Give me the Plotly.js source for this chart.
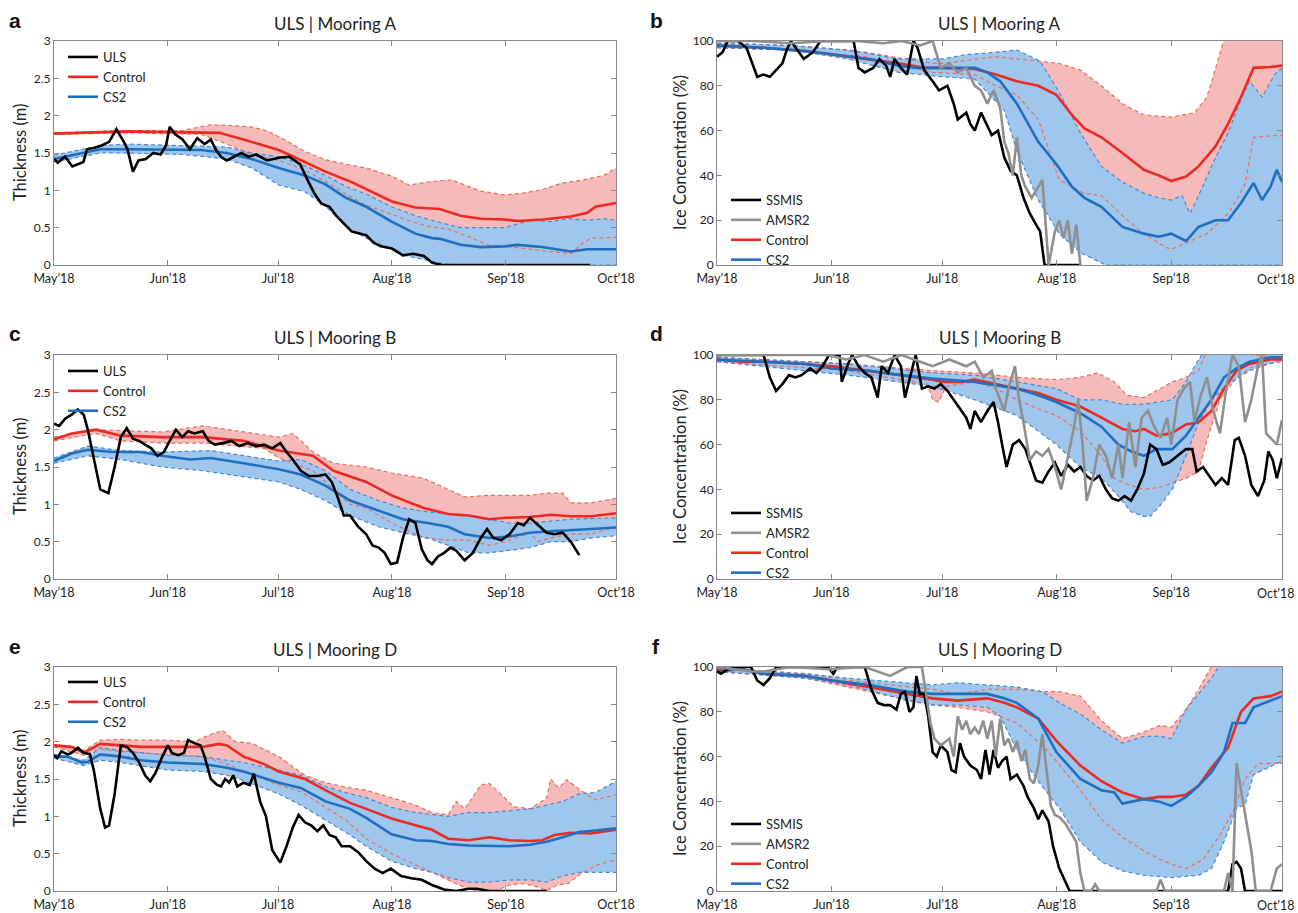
<!DOCTYPE html>
<html>
<head>
<meta charset="utf-8">
<script src="https://cdn.plot.ly/plotly-3.0.1.min.js"></script>
<style>html,body{margin:0;padding:0;background:#fff;}#chart{width:1298px;height:913px;}</style>
</head>
<body>
<div id="chart"></div>
<script>
// ---------- tick labels ----------
const monthTicks = ['2018-05-01','2018-06-01','2018-07-01','2018-08-01','2018-09-01','2018-10-01'];
const monthLabels = ['May’18','Jun’18','Jul’18','Aug’18','Sep’18','Oct’18'];
const panelTitles = ['ULS | Mooring A','ULS | Mooring A','ULS | Mooring B','ULS | Mooring B','ULS | Mooring D','ULS | Mooring D'];
const panelLetters = ['a','b','c','d','e','f'];

// ---------- data (days since 1 May 2018, values) ----------
// Panel a : thickness, mooring A
const aUlsDay = [0,1,3,5,8,9,11,13,15,17,19,20,21.5,23,25,27,29,30.5,31.5,33,35,37,39,41,42.7,44,45.5,47,49,51,53,55,58,61.6,64,67,69.4,71,72.8,75,77,79,81,83.4,85,87,89,92,93.5,95,97.8,100.7,103,105.7,146];
const aUlsVal = [1.42,1.37,1.45,1.32,1.38,1.55,1.57,1.6,1.65,1.82,1.65,1.55,1.25,1.4,1.42,1.5,1.48,1.6,1.85,1.75,1.68,1.55,1.7,1.62,1.68,1.55,1.45,1.4,1.45,1.5,1.45,1.48,1.4,1.44,1.45,1.35,1.1,0.95,0.82,0.78,0.65,0.55,0.45,0.42,0.4,0.3,0.25,0.22,0.18,0.13,0.15,0.12,0.03,0,0];
const aCtlDay = [0,10,20,31,45,51.6,61.2,68.3,73.9,80.6,85,92,98.4,105,110.7,116.2,122.6,126.3,133,140.7,145.2,147.4,153];
const aCtlVal = [1.76,1.77,1.79,1.78,1.77,1.68,1.54,1.38,1.25,1.12,1.02,0.85,0.77,0.75,0.66,0.62,0.61,0.59,0.61,0.65,0.7,0.78,0.83];
const aCtlHiDay = [0,20,35,42.7,47,53.8,58.3,62.7,68.3,73.9,79.5,85,91.9,96.7,102.9,108.4,112.9,116.2,122.6,127.4,132.9,138.5,144.1,149.7,153];
const aCtlHiVal = [1.77,1.8,1.8,1.88,1.87,1.85,1.79,1.68,1.52,1.41,1.35,1.3,1.19,1.07,1.12,1.14,1.05,0.99,0.94,0.96,1.01,1.1,1.14,1.2,1.3];
const aCtlLoDay = [0,20,40,47,53.8,61.2,67.2,73.9,79.5,85,91.9,96.2,101.7,107.3,112.9,118.5,122.6,129.6,135.2,140.7,144.1,146.3,153];
const aCtlLoVal = [1.75,1.77,1.75,1.62,1.48,1.4,1.3,1.12,0.95,0.8,0.68,0.6,0.52,0.48,0.38,0.26,0.25,0.21,0.18,0.15,0.3,0.36,0.37];
const aCs2Day = [0,5,12.6,20,30,40,47,53.8,61.2,68.3,73.9,79.5,85,91.9,98.4,102.9,105.1,110.7,116.2,122.6,126.3,132.9,140.7,145.2,153];
const aCs2Val = [1.42,1.47,1.55,1.55,1.55,1.54,1.5,1.42,1.3,1.2,1.08,0.9,0.78,0.58,0.42,0.36,0.35,0.27,0.24,0.25,0.27,0.24,0.18,0.21,0.21];
const aCs2HiDay = [0,12.6,20,35,47,53.8,61.2,68.3,73.9,79.5,85,91.9,98.4,105,110.7,116.2,122.6,126.3,130,135,140,145,150,153];
const aCs2HiVal = [1.47,1.6,1.62,1.6,1.58,1.5,1.45,1.33,1.2,1.05,0.95,0.78,0.66,0.57,0.5,0.5,0.5,0.55,0.6,0.58,0.62,0.6,0.62,0.6];
const aCs2LoDay = [0,12.6,20,35,47,53.8,61.2,68.3,73.9,79.5,85,91.9,96.2,102.9,108,153];
const aCs2LoVal = [1.38,1.5,1.5,1.48,1.42,1.3,1.07,0.98,0.79,0.52,0.36,0.21,0.12,0.05,0,0];

// Panel b : ice concentration, mooring A
const bSsmDay = [0,1.5,2.9,5.7,8,10.9,12.6,14.3,16,17.7,18.9,20,23.5,26,28,37,38.3,40,42.3,44,45.8,46.9,48.1,49.8,51.5,53.2,54.3,56.1,58.4,60.1,62.4,64.1,65.2,67.5,68.6,69.8,71.5,73.2,74.4,76.1,77.8,79.5,81.2,83,84.7,86.4,87.5,88.7,98.4];
const bSsmVal = [93,95,100,100,97,84,85,84,87,90,96,100,92,95,100,100,88,86,88,92,89,84,92,88,85,100,97,87,82,78,80,72,65,68,63,60,68,62,58,60,48,42,40,30,23,18,15,0,0];
const bAmsDay = [0,10,20,30,37.8,45,50,55,58.4,60.6,62.9,65.2,67.5,69.8,71.5,73.2,74.9,76.7,77.8,78.9,80.1,81.2,82.4,83.5,85.2,87,88.1,88.7,89.8,91.5,92.7,93.8,95,96.1,97.3,98.4];
const bAmsVal = [100,100,99,100,100,99,100,98,100,88,90,86,88,80,78,72,78,70,55,50,40,57,40,35,30,35,38,25,0,15,20,12,20,5,18,0];
const bCtlDay = [0,12.6,24,31.1,41.2,49.2,56.1,61.2,69.8,75.5,81.2,87,91.9,96.1,99.5,104.1,109.8,115.6,119.6,123,127,130.4,135,138.4,141.9,145.3,149.9,153];
const bCtlVal = [98,97,95.5,94,92,90,88,88,87.5,85,82,80,76,67,61,57,50,42.5,40,37.5,39.5,44,53,63,75,88,88.4,89];
const bCtlHiDay = [0,20,40,58.4,61.2,69.8,75.5,81.2,88.1,92.7,98.4,104.1,109.8,115.6,123,129.3,132.7,136.2,139,153];
const bCtlHiVal = [99,98,95,90,90,92,93,92,91,90,87,80,72,67,66,68,75,95,110,110];
const bCtlLoDay = [0,20,40,58.4,69.8,75.5,81.2,87,92.7,99.5,104.1,109.8,115.6,121.3,123,127,132.7,138.4,140.7,143,145.3,153];
const bCtlLoVal = [97,96,93,86,85,80,76,65,38,32,31,22,14,8,7,10,14,23,29,36,57,58];
const bCs2Day = [0,12.6,24,31.1,41.2,49.2,53.8,58.4,64,69.8,73.2,76.7,81.2,87,91.9,96.1,99.5,104.1,109.8,115.6,119.6,123,127,130.4,135,138.4,141.9,145.3,147.6,149.9,151.6,153];
const bCs2Val = [98,97,95.5,94,92,89,88,88,88,88,86,82,72,55,45,35,30,26,17,14,12.6,14,10.7,17,20,20,27.7,36.6,29,35,42.5,37];
const bCs2HiDay = [0,20,35.5,49.2,61.2,67.5,75.5,81.2,87.5,92.7,98.4,104.1,109.8,115.6,119.6,123,125.9,128.1,130.4,135,138.4,141.9,144.2,147.6,151,153];
const bCs2HiVal = [99,98,96,92,92,94,95,96,91,77,59,44,37,32,30,29,31,23,31,48,59,74,82,75,85,88];
const bCs2LoDay = [0,20,35.5,49.2,61.2,69.8,77.8,81.2,87,92.7,98.4,105.3,153];
const bCs2LoVal = [97,96,92,86,84,83,69,51,29,14,5.5,0,0];

// Panel c : thickness, mooring B
const cUlsDay = [0,1.4,3.1,4.8,6.5,8.1,9.2,10.9,12.6,14.8,16.5,18.2,19.8,21.5,23.2,24.8,26.5,28.2,29.9,31.5,33.2,34.9,36.5,38.2,40.5,42.1,43.8,46,48.3,50.5,52.7,54.9,57.2,59.4,61.6,63.3,65,67.2,69.4,71.7,73.9,75.6,77.2,78.9,80.6,82.8,85,86.7,88.4,90,91.7,93.4,95,96.7,98.4,100.1,101.7,102.9,104.5,106.2,107.9,109.5,111.8,114,116.2,117.9,119.6,121.8,124,126.3,127.9,129.6,131.8,134.1,136.3,138.5,140.7,143];
const cUlsVal = [2.08,2.05,2.15,2.2,2.27,2.2,2.0,1.6,1.2,1.15,1.5,1.9,2.02,1.88,1.85,1.8,1.75,1.65,1.7,1.85,2.0,1.9,1.98,1.95,1.98,1.85,1.8,1.82,1.85,1.78,1.82,1.78,1.8,1.75,1.82,1.7,1.6,1.45,1.38,1.38,1.4,1.3,1.1,0.85,0.85,0.7,0.6,0.45,0.42,0.35,0.2,0.22,0.55,0.8,0.75,0.4,0.25,0.2,0.3,0.35,0.42,0.38,0.25,0.35,0.55,0.67,0.55,0.52,0.6,0.75,0.72,0.82,0.72,0.62,0.6,0.62,0.5,0.32];
const cCtlDay = [0,4.8,11.5,18.2,29.3,40.5,51.6,61.2,70.5,76.1,85,91.9,100.6,107.3,112.9,118.5,122.9,129.6,135.2,140.7,146.3,153];
const cCtlVal = [1.87,1.95,2.0,1.92,1.9,1.9,1.85,1.72,1.65,1.45,1.3,1.12,0.95,0.87,0.85,0.8,0.82,0.83,0.86,0.84,0.84,0.88];
const cCtlHiDay = [0,11.5,29.3,40.5,51.6,61.2,65,70.5,76.1,85,91.9,100.6,107.3,111.8,118.5,129.6,134.1,138.5,140.7,146.3,153];
const cCtlHiVal = [1.9,2.0,1.97,2.05,1.97,1.9,1.95,1.7,1.55,1.5,1.42,1.35,1.2,1.1,1.12,1.12,1.15,1.15,1.02,1.02,1.08];
const cCtlLoDay = [0,11.5,18.2,29.3,40.5,51.6,57.2,61.2,65,70.5,76.1,80.6,85,91.9,96.2,100.6,107.3,112.9,118.5,122.9,129.6,131.8,135.2,140.7,146.3,153];
const cCtlLoVal = [1.85,1.95,1.85,1.82,1.82,1.77,1.75,1.62,1.55,1.45,1.2,1.0,0.95,0.75,0.65,0.55,0.52,0.52,0.45,0.5,0.62,0.5,0.55,0.6,0.6,0.7];
const cCs2Day = [0,4.8,9.2,15.9,23.7,29.3,37.1,42.7,51.6,61.2,67.2,73.9,80.6,88.4,95,101.7,107.3,111.8,118.5,124,129.6,135.2,140.7,146.3,153];
const cCs2Val = [1.58,1.68,1.73,1.7,1.7,1.65,1.6,1.62,1.55,1.47,1.4,1.25,1.05,0.92,0.8,0.75,0.7,0.6,0.55,0.57,0.62,0.64,0.65,0.67,0.69];
const cCs2HiDay = [0,9.2,18.2,29.3,42.7,51.6,61.2,67.2,73.9,80.6,88.4,95,101.7,107.3,112.9,118.5,124,129.6,140.7,153];
const cCs2HiVal = [1.62,1.78,1.72,1.7,1.72,1.65,1.58,1.6,1.45,1.2,1.05,0.95,0.9,0.87,0.85,0.8,0.75,0.75,0.8,0.82];
const cCs2LoDay = [0,9.2,18.2,29.3,40.5,51.6,61.2,67.2,73.9,80.6,88.4,95,101.7,107.3,112.9,118.5,124,129.6,135.2,140.7,146.3,153];
const cCs2LoVal = [1.55,1.65,1.6,1.5,1.45,1.37,1.3,1.2,1.05,0.85,0.7,0.62,0.55,0.45,0.35,0.35,0.38,0.42,0.5,0.5,0.55,0.58];

// Panel d : ice concentration, mooring B
const dSsmDay = [0,12.6,14.3,16,17.7,19.5,21.2,22.9,25.2,26.9,28.6,30.3,33.2,33.8,35.5,36.6,38.3,40,41.8,43.5,44.6,46.3,48.1,49.8,50.9,52.6,53.8,55.5,57.2,58.9,60.6,62.4,64.1,65.8,67.5,68.6,69.8,71.5,73.2,74.9,76.1,77.2,78.4,80.1,81.8,83.5,85.2,86.4,88.1,89.8,91.5,93.2,95,96.7,98.4,100.1,101.8,103.5,105.3,107,108.7,110.4,112.1,113.8,115.6,117.3,119,120.7,122.4,124.7,127,128.7,129.9,131.6,133.3,135,136.7,138.4,140.2,141.3,143,144.7,146.5,148.2,149.3,150.5,151.6,153];
const dSsmVal = [100,100,90,84,87,91,90,91,94,92,95,100,100,88,96,100,95,92,90,81,95,92,100,95,81,92,100,85,86,85,87,84,80,76,72,67,75,70,75,79,70,60,50,60,62,58,50,44,43,48,52,46,51,48,50,46,44,46,40,36,35,37,35,40,47,60,58,51,52,55,58,58,48,50,46,42,45,42,62,63,55,42,37,44,57,53,45,54];
const dAmsDay = [0,30,35,40,45,50,55,58.4,62.9,67.5,69.8,72.1,74.4,75.5,77.8,78.9,80.7,81.8,83,84.7,86.4,88.1,89.8,91.5,93.2,95,96.7,97.8,99,100.1,101.8,103.5,105.3,107,108.7,109.8,111.6,113.3,115,116.7,118.4,120.1,121.9,123,124.7,126.4,128.1,129.3,131,132.7,134.4,136.2,137.9,139.6,141.3,143,144.7,146.5,147.6,148.7,150.5,151.6,153];
const dAmsVal = [100,100,98,100,97,100,97,95,98,95,97,90,93,85,75,85,95,80,70,53,57,55,58,50,40,55,68,80,60,35,45,60,55,45,60,45,70,50,72,75,68,63,72,60,80,85,88,70,82,90,75,65,85,100,95,70,80,95,100,65,62,60,71];
const dCtlDay = [0,6.9,12.6,24,31.1,41.2,49.8,58.4,61.2,66.4,69.8,75.5,81.2,87,91.9,98.4,104.1,109.8,113.3,115.6,119,123,127,130.4,133.9,137.3,140.7,144.2,149.9,153];
const dCtlVal = [98,97,97,96,95,93,91,89,88,88,89,87,85,83,80,77,72,67,66,67,64,65,69,70,75,85,93,96,98,98];
const dCtlHiDay = [0,35.5,58.4,69.8,81.2,91.9,98.4,103,107.6,111,115.6,120.1,123.3,127,130.4,132.2,134,140,145,153];
const dCtlHiVal = [99,96,93,92,90,89,90,92,88,82,81,85,88,90,93,100,105,103,100,99];
const dCtlLoDay = [0,35.5,57,58.4,60.1,62,69.8,75.5,81.2,87,91.9,98.4,104.1,107.6,111.6,115.6,120.1,123.3,127,130.4,132.7,136.2,140.7,145.3,153];
const dCtlLoVal = [97,93,87,80,79,86,88,85,80,76,73,66,55,45,42,40,41,43,45,48,62,80,90,95,97];
const dCs2Day = [0,12.6,24,31.1,41.2,49.8,58.4,69.8,81.2,87,91.9,98.4,104.1,108.7,112.1,115.6,119,123.3,127,130.4,133.9,137.3,140.7,144.2,149.9,153];
const dCs2Val = [98,97,96,94,93,91,89.5,88,85,82,79,74,68,60,57,55,58,58,64,72,80,90,94,97,99,99];
const dCs2HiDay = [0,35.5,58.4,69.8,81.2,91.9,98.4,104.1,109.8,115.6,123.3,127,129.3,131.6,153];
const dCs2HiVal = [99,96,92,91,88,85,80,80,78,78,80,88,95,101,101];
const dCs2LoDay = [0,35.5,58.4,69.8,81.2,91.9,98.4,104.1,108.7,112.1,115.6,117.3,120.1,123.3,127,130.4,133.9,138.4,144.2,153];
const dCs2LoVal = [97,91,86,80,73,60,50,45,37,30,28,28,33,40,55,70,80,87,93,98];

// Panel e : thickness, mooring D
const eUlsDay = [0,0.9,2,3.7,4.8,6.5,8.1,9.8,10.9,12.6,13.9,15,16.5,18.2,19.8,21.5,23.2,24.8,26.2,27.6,29.3,31,32.1,33.8,35.4,36.5,38.2,39.9,41,42.7,44.4,45.5,46.6,47.7,48.8,49.9,51.6,53.3,54.4,56.1,57.7,59.4,61.6,63.3,65,66.6,68.3,70,71.7,73.3,75,76.7,78.3,80.6,82.8,85,87.3,89.5,91.7,94.5,97.3,100.1,102.9,106.2,109.5,112.9,115.1,118.5,134.1];
const eUlsVal = [1.82,1.78,1.87,1.83,1.85,1.92,1.85,1.83,1.6,1.1,0.85,0.88,1.3,1.95,1.93,1.85,1.72,1.55,1.47,1.58,1.78,1.95,1.85,1.82,1.85,2.02,1.98,1.95,1.8,1.5,1.42,1.4,1.5,1.45,1.55,1.4,1.45,1.42,1.57,1.2,1.0,0.55,0.38,0.6,0.85,1.02,0.92,0.88,0.8,0.88,0.75,0.72,0.6,0.6,0.52,0.4,0.3,0.24,0.3,0.2,0.17,0.15,0.08,0.02,0,0.03,0.03,0,0];
const eCtlDay = [0,4.8,8.1,12.6,18.2,23.7,31,40.5,44.9,47.1,51.6,57.2,61.2,68.3,73.9,80.6,85,91.9,98.4,102.9,107.3,112.9,118.5,124,129.6,132.9,136.3,140.7,146.3,153];
const eCtlVal = [1.95,1.93,1.85,1.97,1.95,1.93,1.93,1.93,1.97,1.95,1.8,1.7,1.6,1.5,1.35,1.18,1.1,0.97,0.88,0.82,0.7,0.68,0.72,0.68,0.67,0.68,0.75,0.78,0.77,0.82];
const eCtlHiDay = [0,8.1,12.6,18.2,23.7,31,38.2,42.7,46,49.4,53.8,61.2,68.3,73.9,80.6,85,91.9,98.4,102.9,107.3,109.5,111.8,116.2,118.5,121.8,125.1,129.6,134.1,135.2,137.4,139.6,143,147.4,153];
const eCtlHiVal = [1.96,1.88,2.02,2.03,2.02,2.02,2.0,2.1,2.15,2.0,1.98,1.8,1.55,1.45,1.38,1.35,1.25,1.15,1.05,1.02,1.2,1.1,1.42,1.44,1.29,1.13,1.1,1.24,1.5,1.38,1.49,1.36,1.22,1.29];
const eCtlLoDay = [0,8.1,12.6,18.2,29.3,40.5,47.1,51.6,61.2,67.2,73.9,79.5,85,91.9,98.4,105,110,113,116,120,124,128,132,134,137,140,144,148,153];
const eCtlLoVal = [1.93,1.82,1.9,1.87,1.83,1.8,1.7,1.6,1.42,1.33,1.12,0.95,0.7,0.5,0.35,0.2,0.08,0.02,0,0,0.08,0.1,0.05,0,0.08,0.1,0.25,0.35,0.42];
const eCs2Day = [0,3.7,7.6,9.2,12.6,18.2,23.7,31,40.5,47.1,51.6,61.2,67.2,73.9,80.6,85,91.9,98.4,102.9,107.3,112.9,118.5,124,129.6,134.1,138.5,143,147.4,153];
const eCs2Val = [1.8,1.8,1.72,1.73,1.83,1.8,1.75,1.72,1.7,1.65,1.6,1.45,1.38,1.2,1.1,0.98,0.76,0.68,0.67,0.63,0.61,0.6,0.6,0.62,0.66,0.72,0.79,0.81,0.84];
const eCs2HiDay = [0,8.1,12.6,18.2,31,40.5,47.1,51.6,61.2,67.2,73.9,80.6,85,91.9,98.4,102.9,107.3,112.9,118.5,125.1,129.6,134.1,138.5,143,147.4,153];
const eCs2HiVal = [1.83,1.75,1.92,1.88,1.82,1.8,1.75,1.72,1.62,1.55,1.4,1.3,1.25,1.12,1.05,1.02,1.0,1.05,1.05,1.08,1.1,1.15,1.2,1.3,1.32,1.47];
const eCs2LoDay = [0,8.1,12.6,18.2,31,40.5,47.1,51.6,61.2,67.2,73.9,80.6,85,91.9,98.4,102.9,107.3,112.9,118.5,125.1,129.6,134.1,138.5,143,147.4,153];
const eCs2LoVal = [1.78,1.68,1.75,1.72,1.62,1.6,1.55,1.48,1.3,1.15,0.95,0.75,0.6,0.4,0.3,0.25,0.18,0.12,0.12,0.15,0.15,0.12,0.2,0.25,0.25,0.25];

// Panel f : ice concentration, mooring D
const fSsmDay = [0,1.1,2.9,5.7,9.2,10.9,12.6,14.3,16,30,31.5,32.6,40,41.8,43.5,45.2,46.9,48.6,49.8,50.9,52.1,53.2,54,54.9,56.1,57.2,58.4,59.5,60.6,62.4,63.5,64.6,65.8,66.9,68.6,70.4,71.5,72.7,73.8,74.9,76.1,77.2,78.4,79.5,81.2,83,84.1,85.8,87,88.1,89.8,91,92.7,93.8,95.5,138.4,139.6,140.7,141.9,143,153];
const fSsmVal = [98,97,99,100,100,94,92,95,100,100,97,100,100,90,84,83,83,81,88,89,80,82,96,88,88,78,62,60,65,62,54,53,66,60,56,54,50,63,52,63,55,58,60,50,52,47,42,37,32,36,31,20,10,6,0,0,12,13,10,0,0];
const fAmsDay = [0,9.2,12.6,20,30,40,46.9,51.5,55.5,56.6,57.8,58.9,60.6,62.9,64.1,65.2,66.4,67.5,68.6,69.8,70.9,72.1,73.2,74.4,75.5,76.7,77.8,78.9,80.1,81.2,82.4,83.5,84.7,85.8,87,88.1,89.2,90.4,91.5,92.7,94.4,95.5,97.3,98.4,99.5,101.3,102.4,103.5,119,120.1,121.3,137.3,138.4,139.6,140.7,141.9,143.6,144.7,145.9,149.9,151.6,153];
const fAmsVal = [100,98,98,100,99,100,96,100,100,88,75,68,65,68,60,78,72,76,70,73,70,76,68,76,60,77,65,68,62,67,58,63,50,48,56,70,55,38,34,33,30,27,22,8,0,0,3,0,0,5,0,0,8,0,57,45,28,18,0,0,10,12];
const fCtlDay = [0,6.9,12.6,24,31.1,41.2,51.5,58.4,65.2,73.2,77.8,81.2,87,91.9,98.4,104.1,109.8,115.6,119.6,123,127,130.4,133.9,138.4,141.9,145.3,149.9,153];
const fCtlVal = [99,99,97,96,94,91,88,86,85,86,84,82,77,67,56,49,44,41,42,42,43,47,55,64,80,86,87,89];
const fCtlHiDay = [0,24,35.5,46.9,58.4,65.2,73.2,81.2,88.1,92.7,98.4,104.1,109.8,115.6,120.1,123,127,130.4,133.9,135,153];
const fCtlHiVal = [99.5,97,94,92,90,88,90,90,89,89,87,76,68,71,74,73,81,90,100,105,105];
const fCtlLoDay = [0,24,35.5,46.9,58.4,65.2,73.2,81.2,88.1,91.9,98.4,104.1,109.8,115.6,120.1,123,127,131.6,136.2,139.6,143,146.5,153];
const fCtlLoVal = [98,95,91,87,83,82,80,75,65,58,45,32,24,18,14,12,10,14,25,35,50,57,57];
const fCs2Day = [0,6.9,12.6,24,31.1,41.2,51.5,58.4,65.2,73.2,77.8,81.2,87,91.9,98.4,104.1,107.6,109.8,115.6,119.6,123,127,130.4,133.9,137.3,139.6,143,145.3,149.9,153];
const fCs2Val = [98,99,97,96,94,92,89,88,88,88,86,84,77,62,50,45,44,39,41,40,38,42,47,53,62,75,75,82,85,87];
const fCs2HiDay = [0,24,35.5,51.5,58.4,65.2,73.2,81.2,88.1,92.7,98.4,104.1,109.8,115.6,120.1,123,127,130.4,133.9,136.2,153];
const fCs2HiVal = [99.5,97,95,93,92,93,92,91,89,84,79,72,66,69,69,68,81,88,95,101,101];
const fCs2LoDay = [0,24,35.5,51.5,58.4,65.2,73.2,76.7,81.2,87,92.7,98.4,104.1,109.8,115.6,123,130.4,133.9,137.3,140.7,143,145.3,153];
const fCs2LoVal = [98,95,92,85,83,83,82,78,63,49,37,22,13,9,7,6,7,10,22,37,38.5,52,58];

// ---------- styling ----------
const FONT = 'Lato, "Noto Sans", sans-serif';
const COL = {obs:'#000000', amsr:'#8f8f8f', ctl:'#ec2a24', cs2:'#1f6fc0',
  ctlFill:'#f6baba', cs2Fill:'#9fc6ec', ctlDash:'#e9705f', cs2Dash:'#4a89d0', axis:'#8a8a8a'};
const DAY0 = Date.UTC(2018, 4, 1);
function d2s(d){ return new Date(DAY0 + d*864e5).toISOString().slice(0,19).replace('T',' '); }

function sfx(i){ return i === 1 ? '' : String(i); }

function bandTraces(i, hiD, hiV, loD, loV, fillCol){
  const xs = hiD.map(d2s).concat(loD.slice().reverse().map(d2s));
  const ys = hiV.concat(loV.slice().reverse());
  return {x: xs, y: ys, xaxis:'x'+sfx(i), yaxis:'y'+sfx(i), mode:'lines', fill:'toself',
    fillcolor: fillCol, line:{width:0, color:'rgba(0,0,0,0)'}, hoverinfo:'skip', showlegend:false};
}
function dashTrace(i, d, v, col){
  return {x: d.map(d2s), y: v, xaxis:'x'+sfx(i), yaxis:'y'+sfx(i), mode:'lines',
    line:{color: col, width:1.2, dash:'4px,3px'}, hoverinfo:'skip', showlegend:false};
}
function lineTrace(i, d, v, col, name, rank){
  return {x: d.map(d2s), y: v, xaxis:'x'+sfx(i), yaxis:'y'+sfx(i), mode:'lines', name: name,
    line:{color: col, width:2.6}, legend:'legend'+sfx(i), legendrank: rank, showlegend:true};
}

function panel(i, obs, ctl, cs2){
  const t = [];
  t.push(bandTraces(i, ctl.hiD, ctl.hiV, ctl.loD, ctl.loV, COL.ctlFill));
  t.push(bandTraces(i, cs2.hiD, cs2.hiV, cs2.loD, cs2.loV, COL.cs2Fill));
  t.push(dashTrace(i, ctl.hiD, ctl.hiV, COL.ctlDash));
  t.push(dashTrace(i, ctl.loD, ctl.loV, COL.ctlDash));
  t.push(dashTrace(i, cs2.hiD, cs2.hiV, COL.cs2Dash));
  t.push(dashTrace(i, cs2.loD, cs2.loV, COL.cs2Dash));
  t.push(lineTrace(i, ctl.d, ctl.v, COL.ctl, 'Control', 3));
  t.push(lineTrace(i, cs2.d, cs2.v, COL.cs2, 'CS2', 4));
  obs.forEach((o, k) => t.push(lineTrace(i, o.d, o.v, o.col, o.name, 1 + k)));
  return t;
}

const traces = [].concat(
  panel(1, [{name:'ULS', d:aUlsDay, v:aUlsVal, col:COL.obs}],
    {d:aCtlDay, v:aCtlVal, hiD:aCtlHiDay, hiV:aCtlHiVal, loD:aCtlLoDay, loV:aCtlLoVal},
    {d:aCs2Day, v:aCs2Val, hiD:aCs2HiDay, hiV:aCs2HiVal, loD:aCs2LoDay, loV:aCs2LoVal}),
  panel(2, [{name:'SSMIS', d:bSsmDay, v:bSsmVal, col:COL.obs},{name:'AMSR2', d:bAmsDay, v:bAmsVal, col:COL.amsr}],
    {d:bCtlDay, v:bCtlVal, hiD:bCtlHiDay, hiV:bCtlHiVal, loD:bCtlLoDay, loV:bCtlLoVal},
    {d:bCs2Day, v:bCs2Val, hiD:bCs2HiDay, hiV:bCs2HiVal, loD:bCs2LoDay, loV:bCs2LoVal}),
  panel(3, [{name:'ULS', d:cUlsDay, v:cUlsVal, col:COL.obs}],
    {d:cCtlDay, v:cCtlVal, hiD:cCtlHiDay, hiV:cCtlHiVal, loD:cCtlLoDay, loV:cCtlLoVal},
    {d:cCs2Day, v:cCs2Val, hiD:cCs2HiDay, hiV:cCs2HiVal, loD:cCs2LoDay, loV:cCs2LoVal}),
  panel(4, [{name:'SSMIS', d:dSsmDay, v:dSsmVal, col:COL.obs},{name:'AMSR2', d:dAmsDay, v:dAmsVal, col:COL.amsr}],
    {d:dCtlDay, v:dCtlVal, hiD:dCtlHiDay, hiV:dCtlHiVal, loD:dCtlLoDay, loV:dCtlLoVal},
    {d:dCs2Day, v:dCs2Val, hiD:dCs2HiDay, hiV:dCs2HiVal, loD:dCs2LoDay, loV:dCs2LoVal}),
  panel(5, [{name:'ULS', d:eUlsDay, v:eUlsVal, col:COL.obs}],
    {d:eCtlDay, v:eCtlVal, hiD:eCtlHiDay, hiV:eCtlHiVal, loD:eCtlLoDay, loV:eCtlLoVal},
    {d:eCs2Day, v:eCs2Val, hiD:eCs2HiDay, hiV:eCs2HiVal, loD:eCs2LoDay, loV:eCs2LoVal}),
  panel(6, [{name:'SSMIS', d:fSsmDay, v:fSsmVal, col:COL.obs},{name:'AMSR2', d:fAmsDay, v:fAmsVal, col:COL.amsr}],
    {d:fCtlDay, v:fCtlVal, hiD:fCtlHiDay, hiV:fCtlHiVal, loD:fCtlLoDay, loV:fCtlLoVal},
    {d:fCs2Day, v:fCs2Val, hiD:fCs2HiDay, hiV:fCs2HiVal, loD:fCs2LoDay, loV:fCs2LoVal})
);

// ---------- layout ----------
const W = 1298, H = 913;
const px = x => x / W, py = y => 1 - y / H;
const colPx = [[54, 616], [717, 1282]];
const rowPx = [[41, 265], [355, 579], [667, 891]];
const XTICKFONT = {family:FONT, size:12.5, color:'#222'};
const YTICKFONT = {family:FONT, size:12, color:'#222'};
const XLABEL_STANDOFF = 2;

const layout = {width: W, height: H, margin:{l:0, r:0, t:0, b:0},
  paper_bgcolor:'#ffffff', plot_bgcolor:'#ffffff', showlegend:true, annotations:[]};

for (let i = 1; i <= 6; i++) {
  const col = (i - 1) % 2, row = Math.floor((i - 1) / 2);
  const [x0, x1] = colPx[col], [y0, y1] = rowPx[row];
  const ax = {showline:true, mirror:'ticks', linecolor:COL.axis, linewidth:1, ticks:'inside', ticklen:5,
    tickcolor:COL.axis, showgrid:false, zeroline:false, fixedrange:true};
  // on the right-hand column the last month label would run past the page edge,
  // so it is written as a right-aligned label at the edge instead
  const xt = col === 0 ? monthLabels : monthLabels.slice(0, -1).concat(['']);
  layout['xaxis' + sfx(i)] = Object.assign({}, ax, {domain:[px(x0), px(x1)], anchor:'y' + sfx(i),
    type:'date', range:[d2s(0), d2s(153)], tickvals:monthTicks, ticktext:xt,
    tickfont:XTICKFONT, ticklabelstandoff:XLABEL_STANDOFF});
  layout['yaxis' + sfx(i)] = Object.assign({}, ax, {domain:[py(y1), py(y0)], anchor:'x' + sfx(i),
    range: col === 0 ? [0, 3] : [0, 100], dtick: col === 0 ? 0.5 : 20, tickfont:YTICKFONT});
  if (col === 1) {
    layout.annotations.push({text: monthLabels[5], xref:'paper', yref:'paper', x: px(1297), y: py(y1 + 12 + XLABEL_STANDOFF),
      xanchor:'right', yanchor:'middle', showarrow:false, font:XTICKFONT});
  }
  // subplot title
  layout.annotations.push({text: panelTitles[i-1], xref:'paper', yref:'paper', x: px((x0 + x1) / 2),
    y: py(y0 - 18), xanchor:'center', yanchor:'middle', showarrow:false, font:{family:FONT, size:17, color:'#222'}});
  // panel letter
  layout.annotations.push({text: '<b>' + panelLetters[i-1] + '</b>', xref:'paper', yref:'paper',
    x: px(col === 0 ? 15 : 656), y: py(y0 - 21), xanchor:'center', yanchor:'middle', showarrow:false,
    font:{family:'"Liberation Sans", Arial, sans-serif', size:21, color:'#111'}});
  // y axis title
  layout.annotations.push({text: col === 0 ? 'Thickness (m)' : 'Ice Concentration (%)', xref:'paper', yref:'paper',
    x: px(col === 0 ? 20 : 680), y: py((y0 + y1) / 2), xanchor:'center', yanchor:'middle', textangle:-90,
    showarrow:false, font:{family:FONT, size:16.5, color:'#222'}});
  // legend
  const legTop = [42, 185, 356, 498, 667, 809][i-1];
  layout['legend' + sfx(i)] = {x: px(col === 0 ? 63 : 726), y: py(legTop), xanchor:'left', yanchor:'top',
    bgcolor:'rgba(0,0,0,0)', borderwidth:0, tracegroupgap:0, itemclick:false, itemdoubleclick:false,
    font:{family:FONT, size:13, color:'#222'}};
}

Plotly.newPlot('chart', traces, layout, {staticPlot:true, displayModeBar:false});
</script>
</body>
</html>
